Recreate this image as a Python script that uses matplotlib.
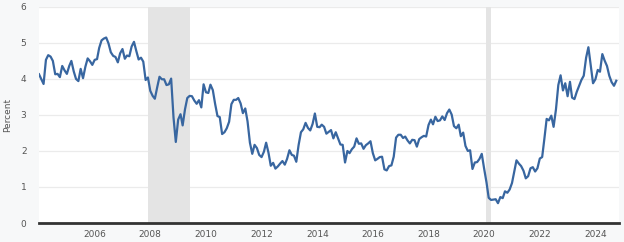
import numpy as np
import pandas as pd
import matplotlib
matplotlib.use('Agg')
import matplotlib.pyplot as plt
import matplotlib.dates as mdates

# month-end yields, Jan 2004 .. Oct 2024
y2004 = [4.13, 3.99, 3.86, 4.53, 4.66, 4.62, 4.50, 4.13, 4.14, 4.05, 4.36, 4.24]
y2005 = [4.14, 4.36, 4.50, 4.21, 4.00, 3.94, 4.28, 4.02, 4.34, 4.57, 4.49, 4.39]
y2006 = [4.53, 4.55, 4.86, 5.07, 5.12, 5.15, 4.99, 4.74, 4.64, 4.61, 4.46, 4.71]
y2007 = [4.83, 4.56, 4.65, 4.63, 4.90, 5.03, 4.78, 4.54, 4.59, 4.48, 3.97, 4.04]
y2008 = [3.67, 3.53, 3.45, 3.77, 4.06, 3.99, 3.99, 3.83, 3.85, 4.01, 2.93, 2.25]
y2009 = [2.87, 3.02, 2.71, 3.16, 3.47, 3.53, 3.52, 3.40, 3.31, 3.41, 3.21, 3.85]
y2010 = [3.63, 3.61, 3.84, 3.69, 3.31, 2.97, 2.94, 2.47, 2.52, 2.63, 2.81, 3.30]
y2011 = [3.42, 3.42, 3.47, 3.32, 3.05, 3.18, 2.82, 2.23, 1.92, 2.17, 2.08, 1.89]
y2012 = [1.83, 1.98, 2.23, 1.95, 1.59, 1.67, 1.51, 1.57, 1.65, 1.72, 1.62, 1.78]
y2013 = [2.02, 1.89, 1.87, 1.70, 2.16, 2.52, 2.60, 2.78, 2.64, 2.57, 2.75, 3.04]
y2014 = [2.67, 2.66, 2.73, 2.67, 2.48, 2.53, 2.58, 2.35, 2.52, 2.35, 2.18, 2.17]
y2015 = [1.68, 2.00, 1.94, 2.05, 2.12, 2.35, 2.20, 2.21, 2.06, 2.16, 2.21, 2.27]
y2016 = [1.94, 1.74, 1.78, 1.83, 1.84, 1.49, 1.46, 1.58, 1.60, 1.84, 2.37, 2.45]
y2017 = [2.45, 2.36, 2.40, 2.29, 2.21, 2.31, 2.30, 2.12, 2.33, 2.38, 2.42, 2.40]
y2018 = [2.72, 2.87, 2.74, 2.95, 2.83, 2.85, 2.96, 2.86, 3.05, 3.15, 3.01, 2.69]
y2019 = [2.63, 2.73, 2.41, 2.51, 2.14, 2.00, 2.02, 1.50, 1.68, 1.69, 1.78, 1.92]
y2020 = [1.51, 1.13, 0.70, 0.64, 0.65, 0.66, 0.55, 0.72, 0.69, 0.88, 0.84, 0.93]
y2021 = [1.11, 1.44, 1.74, 1.65, 1.58, 1.45, 1.24, 1.30, 1.52, 1.55, 1.43, 1.52]
y2022 = [1.79, 1.83, 2.32, 2.89, 2.85, 2.98, 2.67, 3.15, 3.83, 4.10, 3.68, 3.88]
y2023 = [3.52, 3.92, 3.48, 3.44, 3.64, 3.81, 3.97, 4.09, 4.59, 4.88, 4.37, 3.88]
y2024 = [3.99, 4.25, 4.20, 4.69, 4.51, 4.36, 4.09, 3.91, 3.81, 3.95]

values = (y2004 + y2005 + y2006 + y2007 + y2008 + y2009 + y2010 + y2011 + y2012
          + y2013 + y2014 + y2015 + y2016 + y2017 + y2018 + y2019 + y2020
          + y2021 + y2022 + y2023 + y2024)
dates = pd.date_range('2004-01-01', periods=len(values), freq='MS')

recessions = [('2007-12-01', '2009-06-01'), ('2020-02-01', '2020-04-01')]

fig = plt.figure(figsize=(6.24, 2.42), dpi=100, facecolor='#f7f8f9')
ax = fig.add_axes([0.0625, 0.0785, 0.93, 0.893])
ax.set_facecolor('white')

for start, end in recessions:
    ax.axvspan(pd.Timestamp(start), pd.Timestamp(end), color='#e4e4e4', lw=0, zorder=1)

ax.plot(dates, values, color='#3866a0', lw=1.6, zorder=3)

ax.set_ylim(0, 6)
ax.set_yticks(range(0, 7))
ax.set_xlim(pd.Timestamp('2004-01-01'), pd.Timestamp('2024-11-10'))
ax.xaxis.set_major_locator(mdates.YearLocator(2, month=1, day=1))
ax.xaxis.set_major_formatter(mdates.DateFormatter('%Y'))
ax.set_xticks([pd.Timestamp(f'{y}-01-01') for y in range(2006, 2025, 2)])

ax.grid(axis='y', color='#ebebeb', lw=0.9, zorder=0)
ax.set_axisbelow(True)
for s in ['top', 'right', 'left']:
    ax.spines[s].set_visible(False)
ax.spines['bottom'].set_color('#333333')
ax.spines['bottom'].set_linewidth(2)
ax.spines['bottom'].set_zorder(4)

ax.tick_params(axis='y', length=0, pad=9, labelsize=6.5, labelcolor='#555555')
ax.tick_params(axis='x', length=0, pad=5, labelsize=6.5, labelcolor='#555555')
ax.set_ylabel('Percent', fontsize=6.5, color='#555555', labelpad=6)

fig.savefig('out.png', dpi=100, facecolor=fig.get_facecolor())
